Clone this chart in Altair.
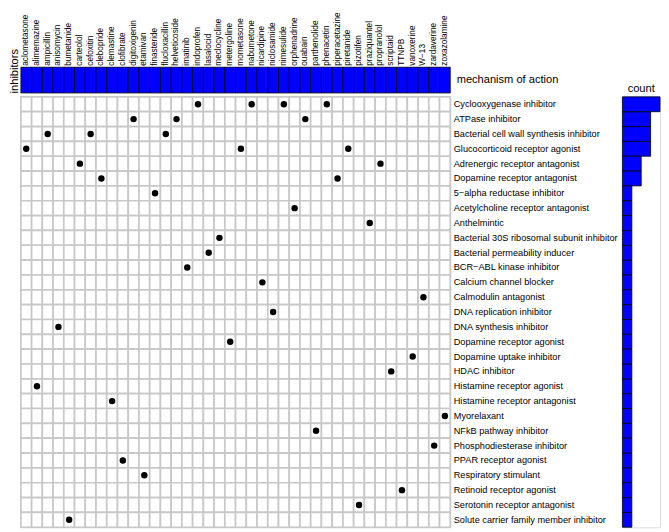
import altair as alt
import pandas as pd

inhibitors = ["aclometasone", "alimemazine", "ampicillin", "anisomycin", "bumetanide",
              "carteolol", "cefoxitin", "clebopride", "clemastine", "clofibrate",
              "digitoxigenin", "etamivan", "finasteride", "flucloxacillin", "helveticoside",
              "imatinib", "indoprofen", "lasalocid", "meclocycline", "metergoline",
              "mometasone", "nabumetone", "nicardipine", "niclosamide", "nimesulide",
              "orphenadrine", "ouabain", "parthenolide", "phenacetin", "piperacetazine",
              "piretanide", "pizotifen", "praziquantel", "propranolol", "scriptaid",
              "TTNPB", "vanoxerine", "W\u221213", "zardaverine", "zoxazolamine"]

inhibitor_moa = ["Glucocorticoid receptor agonist", "Histamine receptor agonist",
                 "Bacterial cell wall synthesis inhibitor", "DNA synthesis inhibitor",
                 "Solute carrier family member inhibitor", "Adrenergic receptor antagonist",
                 "Bacterial cell wall synthesis inhibitor", "Dopamine receptor antagonist",
                 "Histamine receptor antagonist", "PPAR receptor agonist",
                 "ATPase inhibitor", "Respiratory stimulant",
                 "5\u2212alpha reductase inhibitor", "Bacterial cell wall synthesis inhibitor",
                 "ATPase inhibitor", "BCR\u2212ABL kinase inhibitor",
                 "Cyclooxygenase inhibitor", "Bacterial permeability inducer",
                 "Bacterial 30S ribosomal subunit inhibitor", "Dopamine receptor agonist",
                 "Glucocorticoid receptor agonist", "Cyclooxygenase inhibitor",
                 "Calcium channel blocker", "DNA replication inhibitor",
                 "Cyclooxygenase inhibitor", "Acetylcholine receptor antagonist",
                 "ATPase inhibitor", "NFkB pathway inhibitor",
                 "Cyclooxygenase inhibitor", "Dopamine receptor antagonist",
                 "Glucocorticoid receptor agonist", "Serotonin receptor antagonist",
                 "Anthelmintic", "Adrenergic receptor antagonist",
                 "HDAC inhibitor", "Retinoid receptor agonist",
                 "Dopamine uptake inhibitor", "Calmodulin antagonist",
                 "Phosphodiesterase inhibitor", "Myorelaxant"]

moas = ["Cyclooxygenase inhibitor", "ATPase inhibitor",
        "Bacterial cell wall synthesis inhibitor", "Glucocorticoid receptor agonist",
        "Adrenergic receptor antagonist", "Dopamine receptor antagonist",
        "5\u2212alpha reductase inhibitor", "Acetylcholine receptor antagonist",
        "Anthelmintic", "Bacterial 30S ribosomal subunit inhibitor",
        "Bacterial permeability inducer", "BCR\u2212ABL kinase inhibitor",
        "Calcium channel blocker", "Calmodulin antagonist",
        "DNA replication inhibitor", "DNA synthesis inhibitor",
        "Dopamine receptor agonist", "Dopamine uptake inhibitor",
        "HDAC inhibitor", "Histamine receptor agonist",
        "Histamine receptor antagonist", "Myorelaxant",
        "NFkB pathway inhibitor", "Phosphodiesterase inhibitor",
        "PPAR receptor agonist", "Respiratory stimulant",
        "Retinoid receptor agonist", "Serotonin receptor antagonist",
        "Solute carrier family member inhibitor"]

header_label = "mechanism of action"

pairs = pd.DataFrame({"inhibitor": inhibitors, "moa": inhibitor_moa})
cells = pd.DataFrame([(i, m) for m in moas for i in inhibitors], columns=["inhibitor", "moa"])
hdr = pd.DataFrame({"inhibitor": inhibitors, "lab": header_label})

GW = 434
HH = 26
GH = 435
BLUE = "#0000ff"

xband = alt.Scale(paddingInner=0, paddingOuter=0)
yband = alt.Scale(paddingInner=0, paddingOuter=0)

hx = alt.X("inhibitor:N", sort=inhibitors, scale=xband,
           axis=alt.Axis(orient="top", title=None, labelAngle=-90, labelAlign="left",
                         labelBaseline="middle", ticks=False, domain=False,
                         labelPadding=2, labelFontSize=8.3, labelColor="black"))

h1 = alt.Chart(hdr).mark_rect(color=BLUE, stroke="black", strokeWidth=0.7).encode(
    x=hx,
    y=alt.Y("lab:N", axis=alt.Axis(orient="left", title="inhibitors", labels=False,
                                    ticks=False, domain=False, titleFontSize=11.2,
                                    titleFontWeight="normal", titleColor="black",
                                    titlePadding=1, titleAngle=270, titleY=HH,
                                    titleAlign="left")),
)
h2 = alt.Chart(hdr).mark_rect(opacity=0).encode(
    x=hx,
    y=alt.Y("lab:N", axis=alt.Axis(orient="right", title=None, ticks=False, domain=False,
                                    labelFontSize=11.2, labelColor="black",
                                    labelPadding=6)),
)
header = alt.layer(h1, h2).resolve_axis(y="independent").properties(width=GW, height=HH)

grid_rect = alt.Chart(cells).mark_rect(fill="white", stroke="#c8c8c8", strokeWidth=1.7).encode(
    x=alt.X("inhibitor:N", sort=inhibitors, scale=xband, axis=None),
    y=alt.Y("moa:N", sort=moas, scale=yband,
            axis=alt.Axis(orient="right", title=None, ticks=False, domain=False,
                          labelPadding=3, labelFontSize=9.3, labelColor="black")),
)
dots = alt.Chart(pairs).mark_circle(size=42, color="black", opacity=1).encode(
    x=alt.X("inhibitor:N", sort=inhibitors, scale=xband, axis=None),
    y=alt.Y("moa:N", sort=moas, scale=yband),
)
grid = alt.layer(grid_rect, dots).properties(width=GW, height=GH)

bars = alt.Chart(pairs).mark_bar(color=BLUE, stroke="black", strokeWidth=0.8).encode(
    x=alt.X("count():Q", axis=None),
    y=alt.Y("moa:N", sort=moas, scale=yband, axis=None),
).properties(width=38, height=GH,
             title=alt.Title("count", fontSize=11.2, fontWeight="normal", color="black",
                             offset=2, anchor="middle"))

bottom = alt.hconcat(grid, bars, spacing=174, bounds="flush")
chart = alt.vconcat(header, bottom, spacing=4, bounds="flush").properties(
    padding=0, background="white"
).configure_view(strokeWidth=0).configure(font="Liberation Sans")

chart.save("out.html", embed_options={"renderer": "svg", "actions": False})
